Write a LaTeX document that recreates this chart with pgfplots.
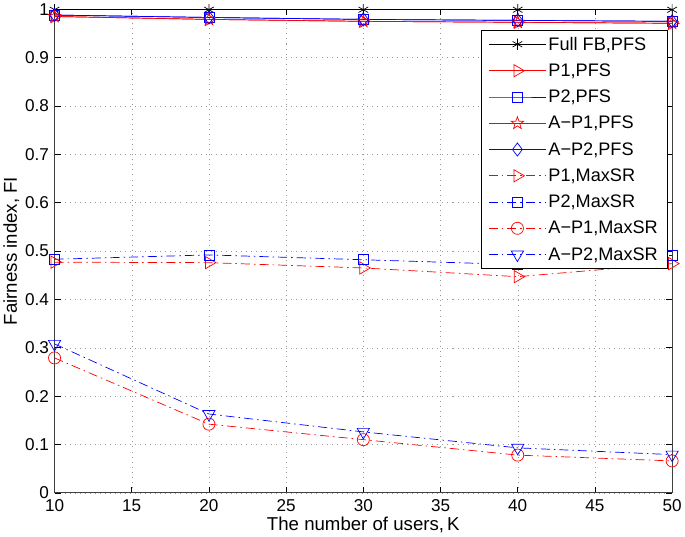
\documentclass[border=0pt]{standalone}
\usepackage{fontspec}
\setmainfont{Liberation Sans}
\usepackage{pgfplots}
\pgfplotsset{compat=1.18}
\usetikzlibrary{plotmarks}
\pgfdeclareplotmark{pentagramo}{%
  \pgfpathmoveto{\pgfqpointpolar{90}{\pgfplotmarksize}}%
  \pgfpathlineto{\pgfqpointpolar{126}{0.4\pgfplotmarksize}}%
  \pgfpathlineto{\pgfqpointpolar{162}{\pgfplotmarksize}}%
  \pgfpathlineto{\pgfqpointpolar{198}{0.4\pgfplotmarksize}}%
  \pgfpathlineto{\pgfqpointpolar{234}{\pgfplotmarksize}}%
  \pgfpathlineto{\pgfqpointpolar{270}{0.4\pgfplotmarksize}}%
  \pgfpathlineto{\pgfqpointpolar{306}{\pgfplotmarksize}}%
  \pgfpathlineto{\pgfqpointpolar{342}{0.4\pgfplotmarksize}}%
  \pgfpathlineto{\pgfqpointpolar{18}{\pgfplotmarksize}}%
  \pgfpathlineto{\pgfqpointpolar{54}{0.4\pgfplotmarksize}}%
  \pgfpathclose\pgfusepathqstroke}
\definecolor{mred}{rgb}{1,0,0}
\definecolor{mblue}{rgb}{0,0,1}
\tikzset{dd/.style={dash pattern=on 9pt off 4pt on 1.5pt off 4pt}}
\begin{document}
\begin{tikzpicture}
\begin{axis}[
  scale only axis,
  width=613pt, height=480pt,
  xmin=10, xmax=50, ymin=0, ymax=1,
  xtick={10,15,...,50},
  ytick={0,0.1,...,1},
  yticklabels={0,0.1,0.2,0.3,0.4,0.5,0.6,0.7,0.8,0.9,1},
  tick align=inside,
  tick style={black, line width=0.6pt},
  major tick length=6pt,
  xmajorgrids, ymajorgrids,
  grid style={dash pattern=on 1pt off 4pt, gray!80},
  axis line style={black!75, line width=0.8pt},
  /pgf/number format/assume math mode=true,
  ticklabel style={font=\fontsize{17}{19}\selectfont},
  label style={font=\fontsize{18.5}{20}\selectfont},
  xticklabel style={yshift=-3pt},
  yticklabel style={xshift=-2pt},
  xlabel={The number of users,\,K},
  ylabel={Fairness index, FI},
  xlabel style={yshift=1pt},
  ylabel style={yshift=-1pt},
  legend style={at={(0.992,0.958)}, anchor=north east, draw=black, line width=0.6pt,
    font=\fontsize{18}{20}\selectfont, row sep=8pt, inner xsep=7pt, inner ysep=5pt,
    cells={anchor=west}},
  legend cell align=left,
  every axis plot/.append style={line width=0.7pt},
  mark size=6pt,
  legend image code/.code={
    \draw[mark repeat=2,mark phase=2,#1]
      plot coordinates {(0cm,0cm) (1.0cm,0cm) (2.0cm,0cm)};
  },
]
\addplot[black, mark=asterisk, mark size=5.5pt, mark options={solid}] coordinates {(10,0.999)(20,0.999)(30,0.999)(40,0.999)(50,0.999)};
\addlegendentry{Full FB,PFS}
\addplot[mred, mark=triangle, mark size=7pt, mark options={solid, rotate=-90}] coordinates {(10,0.985)(20,0.979)(30,0.975)(40,0.973)(50,0.971)};
\addlegendentry{P1,PFS}
\addplot[mblue, mark=square, mark size=5pt, mark options={solid}] coordinates {(10,0.988)(20,0.983)(30,0.979)(40,0.977)(50,0.975)};
\addlegendentry{P2,PFS}
\addplot[mred, mark=pentagramo, mark size=6.5pt, mark options={solid}] coordinates {(10,0.985)(20,0.979)(30,0.975)(40,0.973)(50,0.971)};
\addlegendentry{A−P1,PFS}
\addplot[mblue, mark=diamond, mark size=6.5pt, mark options={solid}] coordinates {(10,0.988)(20,0.983)(30,0.979)(40,0.977)(50,0.975)};
\addlegendentry{A−P2,PFS}
\addplot[mred, dd, mark=triangle, mark size=7pt, mark options={solid, rotate=-90}] coordinates {(10,0.477)(20,0.476)(30,0.465)(40,0.447)(50,0.474)};
\addlegendentry{P1,MaxSR}
\addplot[mblue, dd, mark=square, mark size=5pt, mark options={solid}] coordinates {(10,0.483)(20,0.492)(30,0.482)(40,0.472)(50,0.491)};
\addlegendentry{P2,MaxSR}
\addplot[mred, dd, mark=o, mark size=6pt, mark options={solid}] coordinates {(10,0.279)(20,0.142)(30,0.110)(40,0.078)(50,0.066)};
\addlegendentry{A−P1,MaxSR}
\addplot[mblue, dd, mark=triangle, mark size=7pt, mark options={solid, rotate=180}] coordinates {(10,0.308)(20,0.163)(30,0.126)(40,0.093)(50,0.079)};
\addlegendentry{A−P2,MaxSR}
\end{axis}
\end{tikzpicture}
\end{document}
